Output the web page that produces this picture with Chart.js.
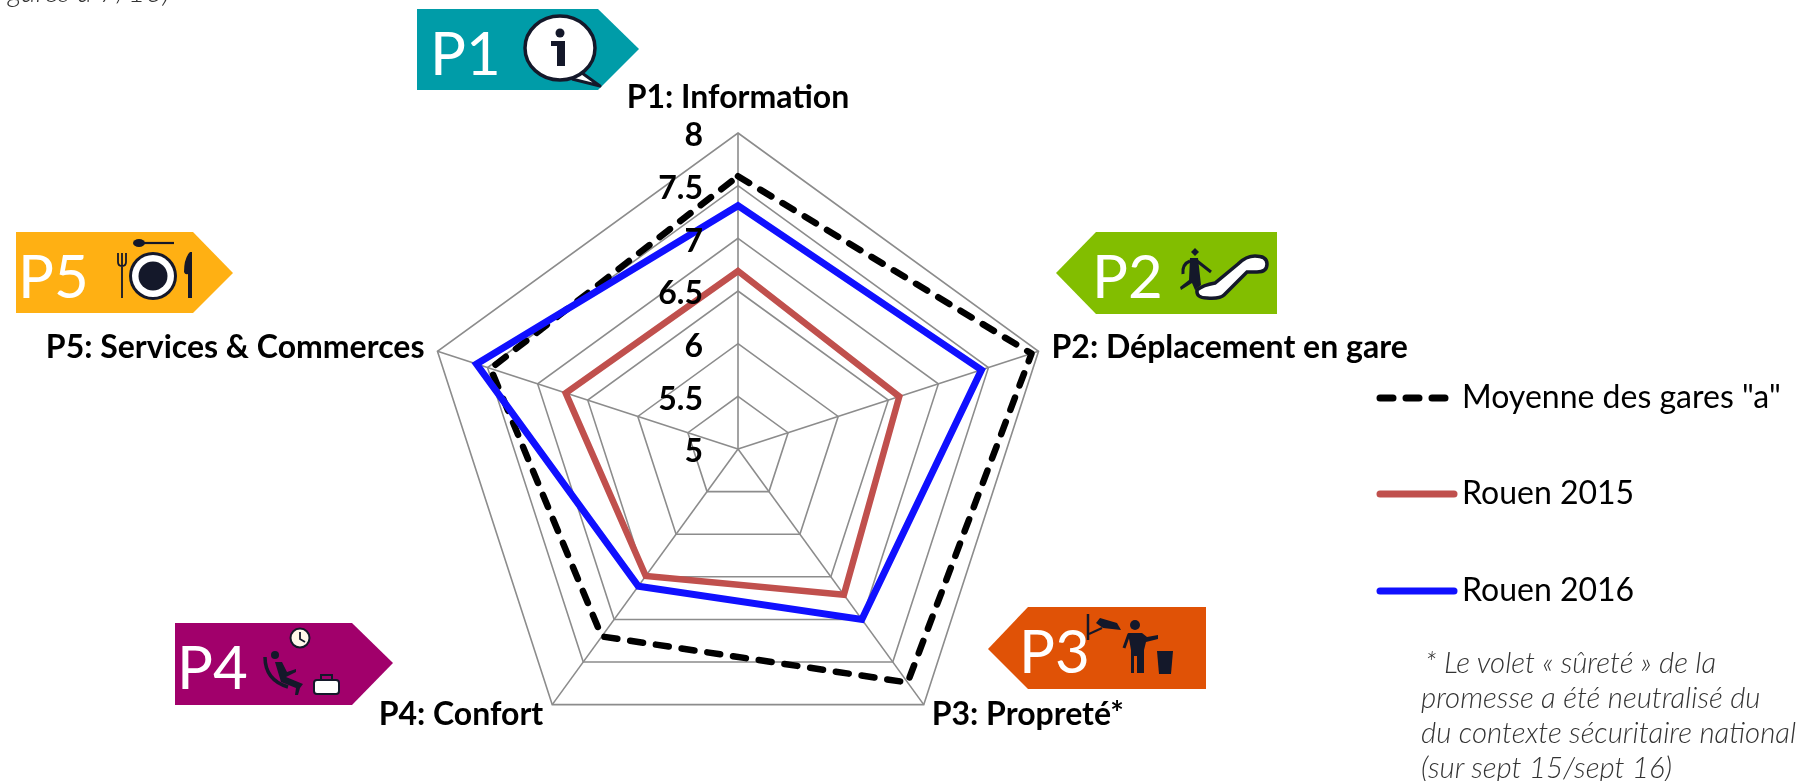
<!DOCTYPE html>
<html lang="fr">
<head>
<meta charset="utf-8">
<title>Rouen</title>
<script src="https://cdn.jsdelivr.net/npm/chart.js@4"></script>
<style>
html,body{margin:0;padding:0;width:1803px;height:781px;overflow:hidden;background:#fff}
#wrap{position:relative;width:1803px;height:781px;overflow:hidden}
canvas{position:absolute;left:0;top:0}
svg{position:absolute;left:0;top:0}
.note{position:absolute;font:italic 300 29.4px Lato,sans-serif;color:#333;white-space:nowrap}
</style>
</head>
<body>
<div id="wrap">
<svg width="1803" height="781" viewBox="0 0 1803 781" font-family="Lato" font-weight="400" font-size="60" fill="#fff">
  <!-- P1 -->
  <polygon points="417,9 598,9 639,49 598,90 417,90" fill="#009ca8"/>
  <text x="430" y="75">P1</text>
  <path d="M582,73 L600,86 L572,79" fill="#fff" stroke="#14182a" stroke-width="3" stroke-linejoin="round"/>
  <ellipse cx="560" cy="48" rx="35" ry="32" fill="#fff" stroke="#14182a" stroke-width="3.5"/>
  <circle cx="560" cy="33" r="4.5" fill="#14182a"/>
  <path d="M551,41 H565 V66 H557 V46 H551 Z" fill="#14182a"/>
  <!-- P2 -->
  <polygon points="1056,273 1096,232 1277,232 1277,314 1096,314" fill="#82be00"/>
  <text x="1092" y="298">P2</text>
  <path d="M1197,290 Q1203,285 1215,283 L1238,264 Q1246,256 1255,256 Q1267,256 1267,264 Q1267,272 1257,272 L1247,272 L1224,295 Q1220,299 1207,298 Q1196,298 1197,290 Z" fill="#fff" stroke="#14182a" stroke-width="3.5"/>
  <path d="M1190,258 H1198 L1201,285 L1195,290 L1192,283 L1181,290 L1180,287 L1189,280 Z" fill="#14182a"/>
  <path d="M1190,261 Q1182,264 1183,274 M1197,261 L1211,272" stroke="#14182a" stroke-width="3" fill="none"/>
  <polygon points="1195,248 1199,252 1195,256 1191,252" fill="#14182a"/>
  <!-- P3 -->
  <polygon points="988,649 1028,607 1206,607 1206,689 1028,689" fill="#e05206"/>
  <text x="1019" y="673">P3</text>
  <path d="M1088,614 V640" stroke="#14182a" stroke-width="2.5"/>
  <path d="M1089,634 L1102,628" stroke="#14182a" stroke-width="2"/>
  <polygon points="1100,618 1117,623 1121,630 1103,628 1096,623" fill="#14182a"/>
  <circle cx="1135" cy="625" r="5" fill="#14182a"/>
  <path d="M1128,633 L1142,633 L1147,637 L1158,635 V639 L1146,642 L1144,650 V673 H1137 V656 H1134 V673 H1131 V650 Z" fill="#14182a"/>
  <path d="M1129,634 L1124,648" stroke="#14182a" stroke-width="3"/>
  <path d="M1157,651 H1173 L1171,674 H1159 Z" fill="#14182a"/>
  <!-- P4 -->
  <polygon points="175,623 352,623 393,663 352,705 175,705" fill="#a1006b"/>
  <text x="177" y="689">P4</text>
  <circle cx="300" cy="638" r="9.5" fill="#fff8ea" stroke="#14182a" stroke-width="2"/>
  <path d="M300,632 V639 L305,642" stroke="#14182a" stroke-width="1.8" fill="none"/>
  <path d="M265,657 Q265,680 288,687" stroke="#14182a" stroke-width="3.5" fill="none"/>
  <circle cx="275" cy="655" r="4" fill="#14182a"/>
  <path d="M275,662 L282,662 L287,672 L296,669 V672 L286,677 L303,684 L300,688 L298,695 L295,695 L296,688 L281,682 Z" fill="#14182a"/>
  <rect x="314" y="680" width="25" height="14" rx="3" fill="#fff" stroke="#14182a" stroke-width="2"/>
  <path d="M321,680 V675 H332 V680" stroke="#14182a" stroke-width="2" fill="none"/>
  <!-- P5 -->
  <polygon points="16,232 193,232 233,273 193,313 16,313" fill="#ffb013"/>
  <text x="18" y="298">P5</text>
  <circle cx="153" cy="276" r="24" fill="#14182a"/>
  <circle cx="153" cy="276" r="21" fill="#fff"/>
  <circle cx="153" cy="276" r="14.5" fill="#14182a"/>
  <ellipse cx="139" cy="243" rx="6" ry="4" fill="#14182a"/>
  <path d="M142,243 H174" stroke="#14182a" stroke-width="2.2"/>
  <path d="M118,253 V262 Q118,266 122,266 Q126,266 126,262 V253 M122,253 V298" stroke="#14182a" stroke-width="1.8" fill="none"/>
  <path d="M190,252 Q184,258 184,272 Q185,275 188,274 V298 H192 V252 Z" fill="#14182a"/>
</svg>
<canvas id="c" width="1803" height="781"></canvas>
<div class="note" style="left:8px;top:-27px">gares à 7/10)</div>
<div class="note" style="left:1425px;top:644px">* Le volet « sûreté » de la</div>
<div class="note" style="left:1421px;top:679px">promesse a été neutralisé du</div>
<div class="note" style="left:1421px;top:714px">du contexte sécuritaire national</div>
<div class="note" style="left:1421px;top:749px">(sur sept 15/sept 16)</div>
</div>
<script>
const categories = ['P1: Information','P2: Déplacement en gare','P3: Propreté*','P4: Confort','P5: Services & Commerces'];
const moyenneA = [7.59,7.93,7.74,7.2,7.47];
const rouen2015 = [6.69,6.61,6.71,6.49,6.72];
const rouen2016 = [7.31,7.43,7.0,6.61,7.61];
const tickValues = [5,5.5,6,6.5,7,7.5,8];
const seriesNames = ['Moyenne des gares "a"','Rouen 2015','Rouen 2016'];

const textPlugin = {
  id:'textPlugin',
  afterDraw(chart){
    const {ctx} = chart, s = chart.scales.r;
    ctx.save();
    ctx.font = 'bold 32px Lato'; ctx.fillStyle = '#000';
    ctx.textAlign = 'right'; ctx.textBaseline = 'middle';
    tickValues.forEach(v=>{
      const p = s.getPointPosition(0, s.getDistanceFromCenterForValue(v));
      ctx.fillText(String(v), p.x-35, p.y+3);
    });
    const off = [[0,-35,'center'],[13,-4,'left'],[8,10,'left'],[-9,10,'right'],[-13,-4,'right']];
    ctx.font = 'bold 32px Lato';
    chart.data.labels.forEach((l,i)=>{
      const p = s.getPointPosition(i, s.drawingArea);
      ctx.textAlign = off[i][2];
      ctx.fillText(l, p.x+off[i][0], p.y+off[i][1]);
    });
    const ly = [398,494,591];
    chart.data.datasets.forEach((d,i)=>{
      ctx.strokeStyle = d.borderColor; ctx.lineWidth = 7; ctx.lineCap = 'round';
      ctx.setLineDash(d.borderDash && d.borderDash.length ? [13,13] : []);
      ctx.beginPath(); ctx.moveTo(1380,ly[i]); ctx.lineTo(1454,ly[i]); ctx.stroke();
      ctx.setLineDash([]);
      ctx.font = '32px Lato'; ctx.textAlign='left'; ctx.textBaseline='middle'; ctx.fillStyle='#000';
      ctx.fillText(d.label, 1462, ly[i]);
    });
    ctx.restore();
  }
};

new Chart(document.getElementById('c'),{
  type:'radar',
  data:{labels:categories,datasets:[
    {label:seriesNames[0],data:moyenneA,borderColor:'#000',borderWidth:6.5,borderDash:[13,13],borderCapStyle:'round',borderJoinStyle:'round',fill:false,pointRadius:0,order:3},
    {label:seriesNames[1],data:rouen2015,borderColor:'#c0504d',borderWidth:6.5,borderJoinStyle:'miter',fill:false,pointRadius:0,order:2},
    {label:seriesNames[2],data:rouen2016,borderColor:'#1010ff',borderWidth:7,borderJoinStyle:'miter',fill:false,pointRadius:0,order:1}
  ]},
  options:{
    responsive:false,animation:false,devicePixelRatio:1,
    layout:{padding:{left:0,right:327,top:133,bottom:16}},
    plugins:{legend:{display:false},tooltip:{enabled:false},title:{display:false}},
    scales:{r:{
      min:5,max:8,
      ticks:{display:false,stepSize:0.5},
      pointLabels:{display:false},
      grid:{color:'#8c8c8c',lineWidth:1.6},
      angleLines:{color:'#8c8c8c',lineWidth:1.6}
    }}
  },
  plugins:[textPlugin]
});
</script>
</body>
</html>
